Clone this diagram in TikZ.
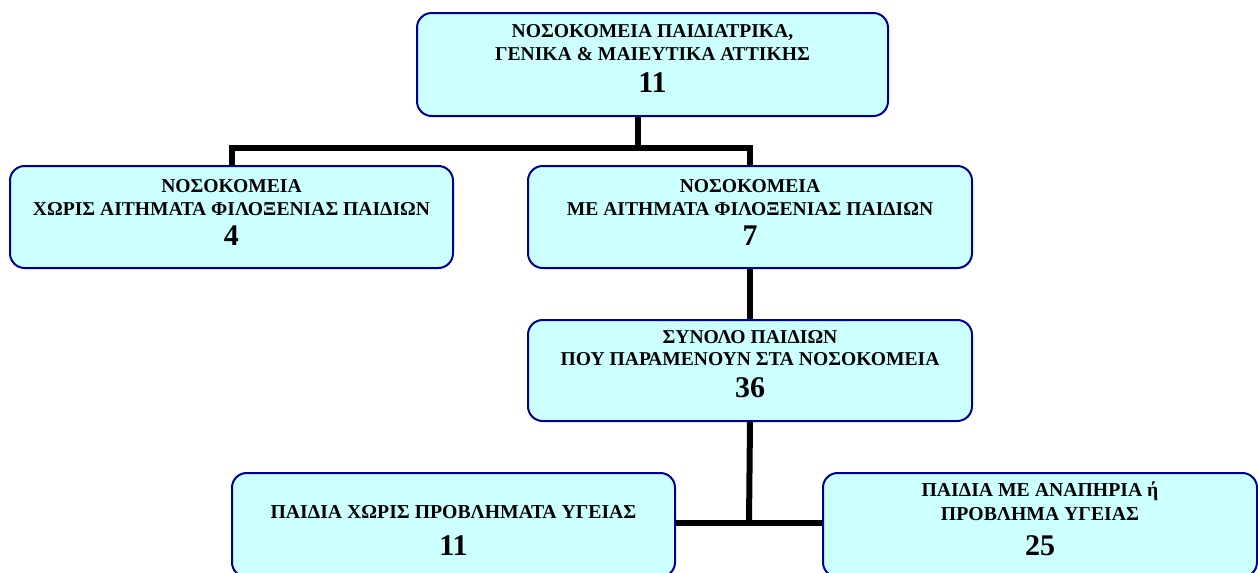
\documentclass[tikz,border=0pt]{standalone}
\usepackage{fontspec}
\setmainfont{Liberation Serif}
\newlength\pxl
\setlength\pxl{0.75pt}
\definecolor{boxfill}{HTML}{CCFFFF}
\definecolor{boxedge}{HTML}{000099}
\tikzset{
  orgbox/.style={draw=boxedge, fill=boxfill, line width=1.5pt, rounded corners=11pt,
    align=center, inner sep=0pt, font=\bfseries\fontsize{14.7}{17.25}\selectfont},
  lowbox/.style={orgbox, font=\bfseries\fontsize{14.8}{17.25}\selectfont},
  conn/.style={draw=black, line width=4.5pt}
}
% the count printed under each heading; the optional depth moves the text block up
\newcommand\numtext[2][0pt]{{\fontsize{22.5}{24}\selectfont #2\rule[-#1]{0pt}{#1}}}
\begin{document}
\begin{tikzpicture}[x=0.75pt, y=-0.75pt]
\useasboundingbox (0,0) rectangle (1258,572);
\clip (0,0) rectangle (1258,572);
\coordinate (j1) at (638,148);
\coordinate (j2) at (749,523);

\node[orgbox, minimum width={471*\pxl}, minimum height={103*\pxl}] (top) at (652.5,64.5)
  {ΝΟΣΟΚΟΜΕΙΑ ΠΑΙΔΙΑΤΡΙΚΑ,\\ ΓΕΝΙΚΑ \& ΜΑΙΕΥΤΙΚΑ ΑΤΤΙΚΗΣ\\[6.75pt] \numtext[9pt]{11}};
\node[orgbox, minimum width={443*\pxl}, minimum height={102*\pxl}] (left) at (231.5,217)
  {ΝΟΣΟΚΟΜΕΙΑ\\ ΧΩΡΙΣ ΑΙΤΗΜΑΤΑ ΦΙΛΟΞΕΝΙΑΣ ΠΑΙΔΙΩΝ\\[5.25pt] \numtext[6.75pt]{4}};
\node[orgbox, minimum width={444*\pxl}, minimum height={102*\pxl}] (mid) at (750,217)
  {ΝΟΣΟΚΟΜΕΙΑ\\ ΜΕ ΑΙΤΗΜΑΤΑ ΦΙΛΟΞΕΝΙΑΣ ΠΑΙΔΙΩΝ\\[5.25pt] \numtext[6.75pt]{7}};
\node[orgbox, minimum width={444*\pxl}, minimum height={101*\pxl}] (tot) at (750,370.5)
  {ΣΥΝΟΛΟ ΠΑΙΔΙΩΝ\\[-0.75pt] ΠΟΥ ΠΑΡΑΜΕΝΟΥΝ ΣΤΑ ΝΟΣΟΚΟΜΕΙΑ\\[6.75pt] \numtext[9.75pt]{36}};
% the two lowest boxes run past the lower edge of the page
\node[lowbox, minimum width={443*\pxl}, minimum height={104*\pxl}] (bl) at (453.5,525)
  {\rule{0pt}{19pt}ΠΑΙΔΙΑ ΧΩΡΙΣ ΠΡΟΒΛΗΜΑΤΑ ΥΓΕΙΑΣ\\[10.5pt] \numtext[1pt]{11}};
\node[lowbox, minimum width={434*\pxl}, minimum height={104*\pxl}] (br) at (1040,525)
  {ΠΑΙΔΙΑ ΜΕ ΑΝΑΠΗΡΙΑ ή\\[0.75pt] ΠΡΟΒΛΗΜΑ ΥΓΕΙΑΣ\\[9pt] \numtext[9pt]{25}};

% tree connectors
\draw[conn] (top.south -| j1) -- (j1);
\draw[conn] (left.north) |- (j1) -| (mid.north);
\draw[conn] (mid.south) -- (tot.north);
\draw[conn] (tot.south) -- (j2);
\draw[conn] (j2 -| bl.east) -- (j2 -| br.west);
\end{tikzpicture}
\end{document}
